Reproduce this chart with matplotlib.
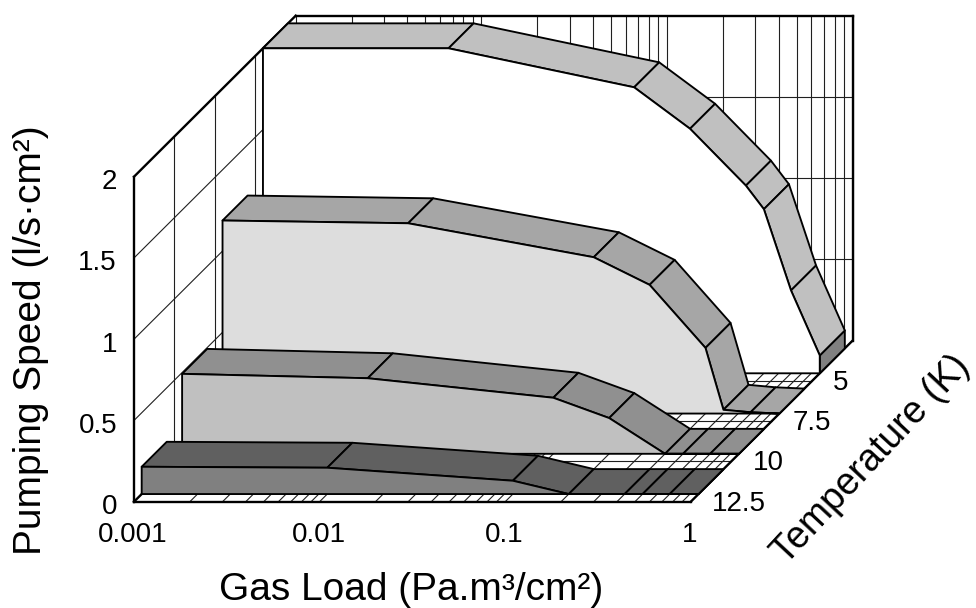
import numpy as np
import matplotlib
matplotlib.use("Agg")
import matplotlib.pyplot as plt
from matplotlib.patches import Polygon

plt.rcParams['font.family'] = ['Liberation Sans', 'DejaVu Sans']

# data
gas_load = [0.001, 0.01, 0.1, 0.2, 0.4, 0.5, 0.7, 1]
temps = ['12.5', '10', '7.5', '5']
speed_125 = [0.168, 0.162, 0.082, 0, 0, 0, 0, 0]
speed_10 = [0.492, 0.465, 0.345, 0.22, 0, 0, 0, 0]
speed_75 = [1.188, 1.171, 0.962, 0.792, 0.404, 0.023, 0.008, 0]
speed_5 = [2.0, 2.0, 1.76, 1.505, 1.155, 1.01, 0.51, 0.11]
speed_ticks = [0, 0.5, 1, 1.5, 2]
speed_labels = ['0', '0.5', '1', '1.5', '2']
load_ticks = [0.001, 0.01, 0.1, 1]
load_labels = ['0.001', '0.01', '0.1', '1']

series = [speed_125, speed_10, speed_75, speed_5]
face_colors = ['#808080', '#c0c0c0', '#dddddd', '#ffffff']
top_colors = ['#606060', '#909090', '#a6a6a6', '#c0c0c0']

# pixels per decade / per speed unit, and what the depth axis adds
PX_X, PX_Y = 185.6, 162.5
DEPTH_X, DEPTH_Y = 161.7 / PX_X, 161.0 / PX_Y
GAP = 0.19


def proj(load, depth, speed):
    # oblique projection: depth 0 is the front of the floor, 1 the back wall
    return (np.log10(load) + 3 + depth * DEPTH_X, speed + depth * DEPTH_Y)


fig = plt.figure(figsize=(9.76, 6.08), dpi=100)
ax = fig.add_axes([0, 0, 1, 1])
ax.set_xlim(-134 / PX_X, (976 - 134) / PX_X)
ax.set_ylim(-(608 - 501.7) / PX_Y, 501.7 / PX_Y)
ax.axis('off')

THIN = dict(color='#202020', lw=0.8, zorder=1, solid_capstyle='butt')
THICK = dict(color='black', lw=1.7, zorder=3, solid_capstyle='projecting')


def line(p, q, **kw):
    ax.plot([p[0], q[0]], [p[1], q[1]], **kw)


# log grid positions
minors = [m * 10.0 ** e for e in (-3, -2, -1) for m in range(1, 10)] + [1]

for m in minors:
    line(proj(m, 1, 0), proj(m, 1, 2), **THIN)  # back wall
    line(proj(m, 0, 0), proj(m, 1, 0), **THIN)  # floor
for s in speed_ticks[1:-1]:
    line(proj(0.001, 1, s), proj(1, 1, s), **THIN)
    line(proj(0.001, 0, s), proj(0.001, 1, s), **THIN)
for d in (0.25, 0.5, 0.75):
    line(proj(0.001, d, 0), proj(1, d, 0), **THIN)
    line(proj(0.001, d, 0), proj(0.001, d, 2), **THIN)

# box outline
line(proj(0.001, 0, 0), proj(1, 0, 0), **THICK)
line(proj(1, 0, 0), proj(1, 1, 0), **THICK)
line(proj(0.001, 0, 0), proj(0.001, 0, 2), **THICK)
line(proj(0.001, 0, 2), proj(0.001, 1, 2), **THICK)
line(proj(0.001, 1, 2), proj(1, 1, 2), **THICK)
line(proj(1, 1, 2), proj(1, 1, 0), **THICK)
line(proj(0.001, 0, 0), proj(0.001, 1, 0), **THICK)

# ribbons, back to front
z = 5
for k in range(3, -1, -1):
    vals = series[k]
    d0 = (k + GAP) / 4
    d1 = (k + 1 - GAP) / 4
    edge = dict(edgecolor='black', lw=1.35, joinstyle='round')
    # right end of the ribbon
    ax.add_patch(Polygon([proj(1, d0, 0), proj(1, d1, 0), proj(1, d1, vals[-1]), proj(1, d0, vals[-1])],
                         facecolor='#808080', zorder=z, **edge))
    z += 1
    for i in range(len(gas_load) - 1):
        a, b = gas_load[i], gas_load[i + 1]
        ax.add_patch(Polygon([proj(a, d0, vals[i]), proj(b, d0, vals[i + 1]),
                              proj(b, d1, vals[i + 1]), proj(a, d1, vals[i])],
                             facecolor=top_colors[k], zorder=z, **edge))
        z += 1
    pts = [proj(g, d0, v) for g, v in zip(gas_load, vals)]
    pts += [proj(1, d0, 0), proj(0.001, d0, 0)]
    ax.add_patch(Polygon(pts, facecolor=face_colors[k], zorder=z, **edge))
    z += 1

# labels
for s, lab in zip(speed_ticks, speed_labels):
    ax.annotate(lab, proj(0.001, 0, s), xytext=(-17, -5.5), textcoords='offset pixels',
                ha='right', va='center', fontsize=20)
for g, lab in zip(load_ticks, load_labels):
    ax.annotate(lab, proj(g, 0, 0), xytext=(-1, -33), textcoords='offset pixels',
                ha='center', va='center', fontsize=20)
for k, lab in enumerate(temps):
    ax.annotate(lab, proj(1, (k + 0.5) / 4, 0), xytext=(1, -22), textcoords='offset pixels',
                ha='left', va='center', fontsize=20)

fig.text(411 / 976, 1 - 590 / 608, 'Gas Load (Pa.m³/cm²)', ha='center', va='center', fontsize=28)
fig.text(31 / 976, 1 - 340 / 608, 'Pumping Speed (l/s·cm²)', ha='center', va='center',
         rotation=90, fontsize=28)
fig.text(871 / 976, 1 - 460 / 608, 'Temperature (K)', ha='center', va='center',
         rotation=47, rotation_mode='anchor', fontsize=27)

fig.savefig('out.png', dpi=100)
